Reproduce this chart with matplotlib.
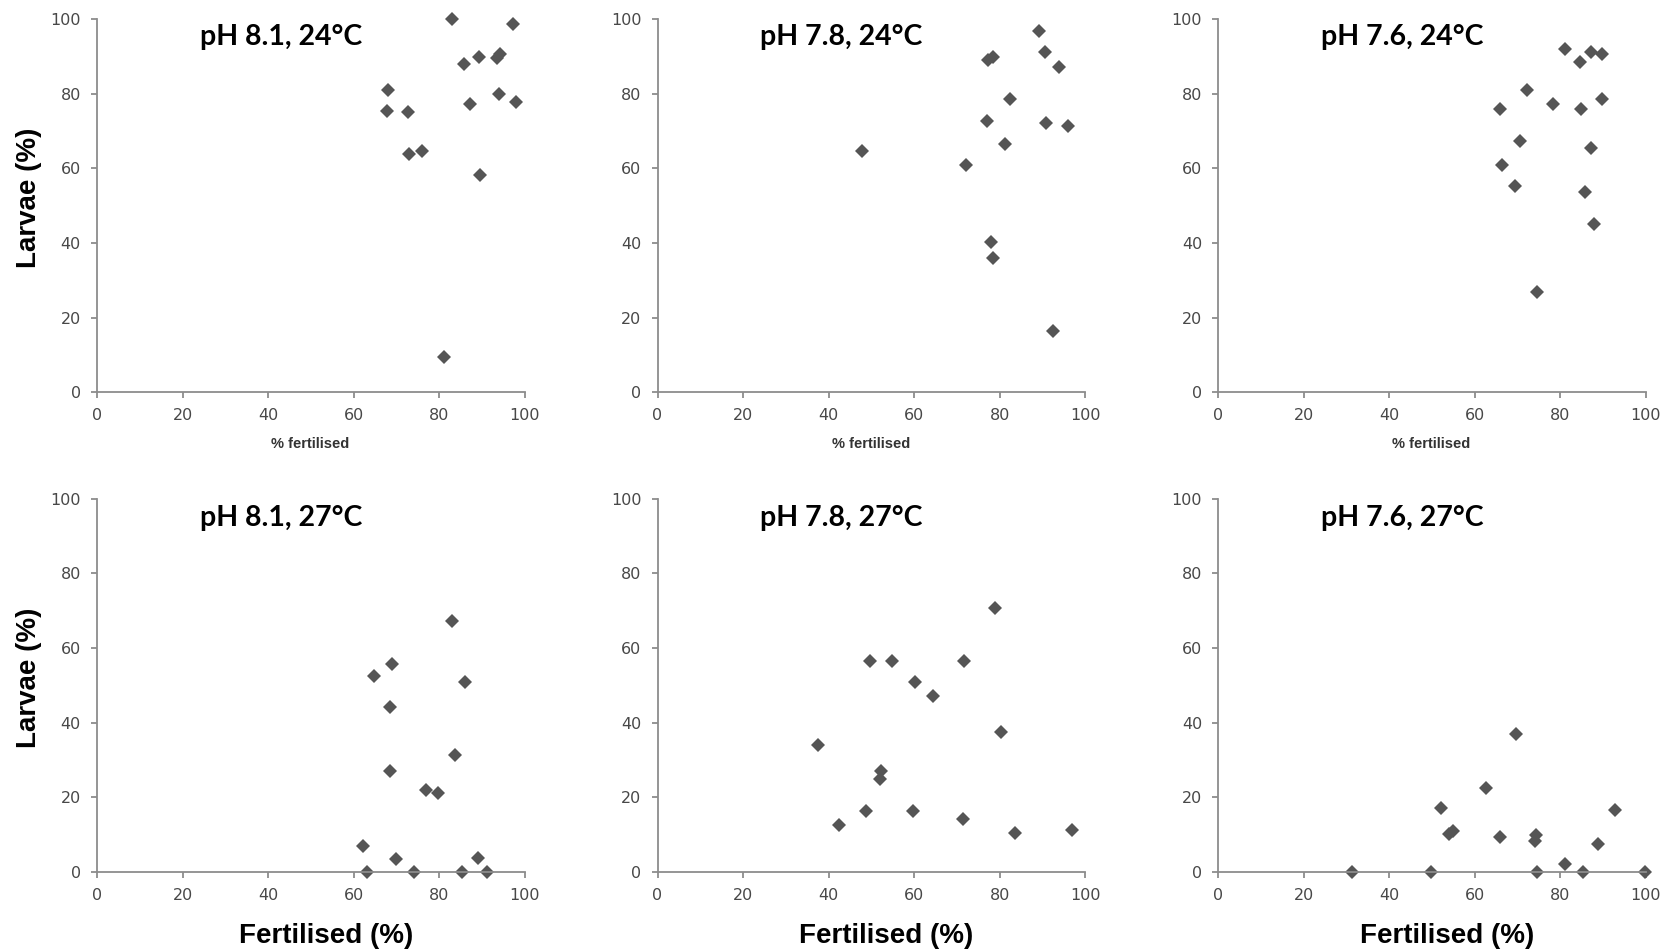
'''
Fertilisation vs. larval development scatter plots
for the pH / temperature treatments.
'''

import matplotlib.pyplot as plt

# pH 8.1, 24 C
FERT_81_24 = [83.0, 97.3, 85.7, 89.2, 93.4, 94.2, 68.0, 67.7, 72.8, 73.0, 76.0, 87.2, 94.0, 97.9, 89.6, 81.1]
LARV_81_24 = [100.0, 98.7, 87.9, 90.0, 89.5, 90.6, 81.0, 75.3, 75.0, 63.9, 64.6, 77.3, 80.0, 77.7, 58.2, 9.5]

# pH 7.8, 24 C
FERT_78_24 = [89.2, 90.5, 93.8, 77.3, 78.4, 82.3, 77.0, 90.7, 95.8, 81.2, 72.0, 47.7, 78.0, 78.3, 92.5]
LARV_78_24 = [96.8, 91.1, 87.3, 89.2, 89.9, 78.5, 72.7, 72.3, 71.5, 66.6, 60.9, 64.7, 40.2, 36.0, 16.3]

# pH 7.6, 24 C
FERT_76_24 = [81.2, 84.5, 87.2, 89.8, 72.2, 65.8, 78.3, 84.8, 89.8, 70.5, 87.2, 66.4, 69.3, 85.7, 87.8, 74.6]
LARV_76_24 = [92.0, 88.4, 91.1, 90.8, 80.9, 75.8, 77.3, 76.0, 78.5, 67.4, 65.5, 60.9, 55.2, 53.8, 45.2, 26.8]

# pH 8.1, 27 C
FERT_81_27 = [83.0, 68.9, 64.8, 86.1, 68.5, 83.6, 68.5, 76.9, 79.6, 62.2, 70.0, 89.0, 63.1, 74.1, 85.4, 91.2]
LARV_81_27 = [67.1, 55.6, 52.4, 50.9, 44.3, 31.4, 27.1, 21.9, 21.1, 7.0, 3.3, 3.7, 0.0, 0.0, 0.0, 0.0]

# pH 7.8, 27 C
FERT_78_27 = [78.9, 49.7, 54.9, 71.7, 60.1, 64.4, 80.3, 37.5, 52.2, 52.0, 48.6, 59.8, 71.3, 42.5, 83.5, 96.8]
LARV_78_27 = [70.8, 56.4, 56.4, 56.6, 50.9, 47.0, 37.5, 34.1, 26.9, 24.8, 16.4, 16.4, 14.2, 12.4, 10.5, 11.2]

# pH 7.6, 27 C
FERT_76_27 = [69.7, 62.7, 52.0, 92.7, 53.9, 55.0, 65.8, 74.2, 74.0, 88.7, 81.2, 31.3, 49.7, 74.6, 85.2, 99.8]
LARV_76_27 = [36.8, 22.5, 17.0, 16.5, 10.2, 10.8, 9.2, 9.9, 8.2, 7.4, 2.2, 0.0, 0.0, 0.0, 0.0, 0.0]

TITLES = [
    'pH 8.1, 24°C', 'pH 7.8, 24°C', 'pH 7.6, 24°C',
    'pH 8.1, 27°C', 'pH 7.8, 27°C', 'pH 7.6, 27°C',
]

TICKS = [0, 20, 40, 60, 80, 100]

FIG_SIZE = [16.71, 9.52]

AXIS_GREY = '#8c8c8c'
MARKER_GREY = '#555555'
TEXT_GREY = '#484848'

# axes boxes in figure fractions (left, bottom, width, height)
LEFTS = [0.0580, 0.3935, 0.7289]
BOTTOMS = [0.588, 0.0843]
WIDTH = 0.2561
HEIGHT = 0.3918


def style_axes(ax):
    for side in ['top', 'right']:
        ax.spines[side].set_visible(False)
    for side in ['left', 'bottom']:
        ax.spines[side].set_color(AXIS_GREY)
        ax.spines[side].set_linewidth(1.3)
    ax.set_xlim(0, 100)
    ax.set_ylim(0, 100)
    ax.set_xticks(TICKS)
    ax.set_yticks(TICKS)
    ax.tick_params(direction='out', length=4.5, width=1.3, color=AXIS_GREY,
                   labelcolor=TEXT_GREY, labelsize=11.5, pad=7)
    for lab in ax.get_xticklabels() + ax.get_yticklabels():
        lab.set_family('DejaVu Sans')


def scatter_panel(fig, box, x, y, title, top_row, first_col):
    ax = fig.add_axes(box)
    style_axes(ax)
    ax.plot(x, y, 'D', color=MARKER_GREY, markersize=6.8,
            markeredgewidth=0, clip_on=False)
    ax.text(0.43, 0.952 if top_row else 0.948, title, transform=ax.transAxes,
            ha='center', va='center', fontsize=20.5, fontweight='bold',
            family='Lato', color='black')

    if top_row:
        ax.text(0.498, -0.14, '% fertilised', transform=ax.transAxes,
                ha='center', va='center', fontsize=10.5, fontweight='bold',
                family='Liberation Sans', color='#333333')
    else:
        ax.text(0.535, -0.172, 'Fertilised (%)', transform=ax.transAxes,
                ha='center', va='center', fontsize=20, fontweight='bold',
                family='Liberation Sans', color='black')

    if first_col:
        ax.text(-0.158, 0.52, 'Larvae (%)', transform=ax.transAxes,
                ha='center', va='center', rotation=90, fontsize=20,
                fontweight='bold', family='Liberation Sans', color='black')
    return ax


fig = plt.figure(figsize=FIG_SIZE, dpi=100)

panels = [
    (FERT_81_24, LARV_81_24), (FERT_78_24, LARV_78_24), (FERT_76_24, LARV_76_24),
    (FERT_81_27, LARV_81_27), (FERT_78_27, LARV_78_27), (FERT_76_27, LARV_76_27),
]

for i, (x, y) in enumerate(panels):
    row, col = divmod(i, 3)
    box = [LEFTS[col], BOTTOMS[row], WIDTH, HEIGHT]
    scatter_panel(fig, box, x, y, TITLES[i], row == 0, col == 0)

plt.savefig('out.png', dpi=100)
plt.close()
